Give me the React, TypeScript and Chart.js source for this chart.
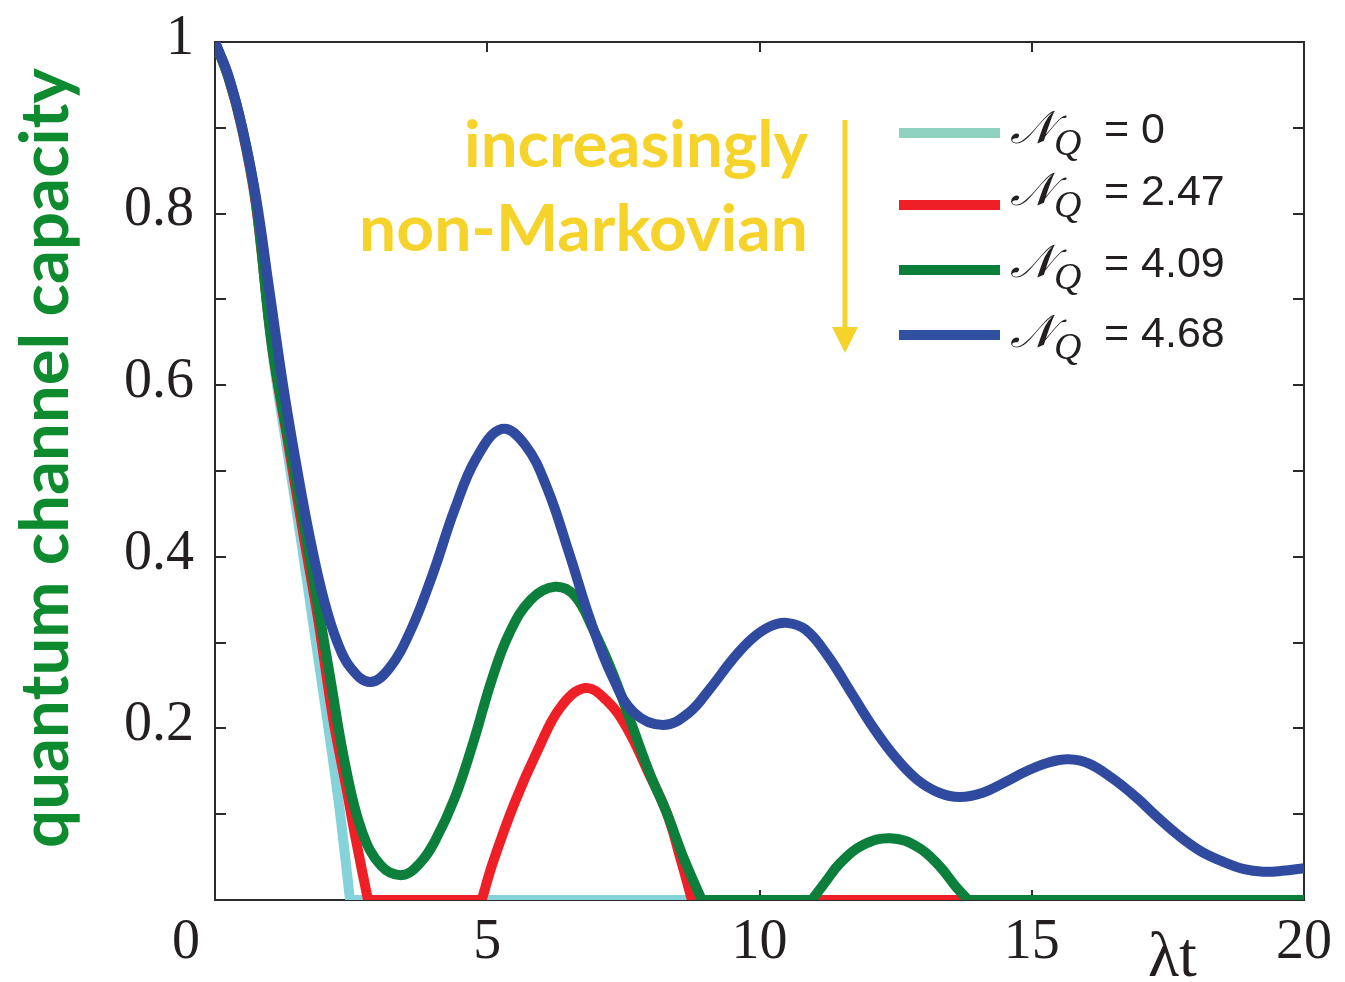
import React, { useEffect, useRef } from 'react';
import { Chart, registerables } from 'chart.js';
Chart.register(...registerables);

// ---- data ----
const T_CYAN = [0, 0.25, 0.5, 0.75, 1.05, 1.3, 1.58, 1.82, 2.06, 2.28, 2.48, 5, 10, 15, 20];
const V_CYAN = [1, 0.958, 0.897, 0.81, 0.64, 0.535, 0.42, 0.315, 0.211, 0.11, 0, 0, 0, 0, 0];

const T_RED = [0, 0.25, 0.5, 0.75, 1.05, 1.35, 1.64, 1.9, 2.17, 2.4, 2.57, 2.81, 4.9, 5.1, 5.5, 5.93, 6.35, 6.8, 7.2, 7.57, 7.95, 8.3, 8.55, 8.76, 12, 16, 20];
const V_RED = [1, 0.958, 0.898, 0.812, 0.645, 0.53, 0.42, 0.325, 0.211, 0.135, 0.076, 0, 0, 0.043, 0.113, 0.175, 0.225, 0.247, 0.232, 0.2, 0.15, 0.101, 0.048, 0, 0, 0, 0];

const T_GREEN = [0, 0.25, 0.5, 0.75, 1.05, 1.4, 1.75, 2.1, 2.4, 2.7, 3.05, 3.43, 3.75, 4.05, 4.41, 4.75, 5.08, 5.4, 5.8, 6.24, 6.6, 6.95, 7.3, 7.65, 8.0, 8.3, 8.6, 8.94, 10.96, 11.2, 11.48, 11.9, 12.4, 12.9, 13.3, 13.6, 13.83, 17, 20];
const V_GREEN = [1, 0.958, 0.9, 0.815, 0.645, 0.52, 0.395, 0.265, 0.155, 0.08, 0.04, 0.029, 0.042, 0.07, 0.12, 0.185, 0.256, 0.31, 0.35, 0.365, 0.355, 0.315, 0.265, 0.205, 0.145, 0.101, 0.05, 0, 0, 0.02, 0.043, 0.064, 0.072, 0.062, 0.04, 0.016, 0, 0, 0];

const T_BLUE = [0, 0.25, 0.5, 0.75, 1.0, 1.25, 1.5, 1.75, 2.0, 2.25, 2.5, 2.85, 3.2, 3.6, 4.0, 4.4, 4.8, 5.27, 5.7, 6.1, 6.5, 6.9, 7.3, 7.7, 8.23, 8.7, 9.1, 9.5, 9.85, 10.2, 10.5, 10.85, 11.25, 11.7, 12.1, 12.5, 12.9, 13.3, 13.68, 14.1, 14.5, 14.9, 15.3, 15.67, 16.05, 16.5, 16.93, 17.3, 17.7, 18.1, 18.5, 18.9, 19.25, 19.6, 20];
const V_BLUE = [1, 0.96, 0.9, 0.82, 0.71, 0.6, 0.505, 0.42, 0.35, 0.3, 0.27, 0.254, 0.27, 0.315, 0.38, 0.455, 0.515, 0.549, 0.53, 0.48, 0.405, 0.325, 0.26, 0.218, 0.204, 0.218, 0.247, 0.28, 0.304, 0.319, 0.323, 0.315, 0.285, 0.24, 0.2, 0.166, 0.14, 0.125, 0.12, 0.125, 0.137, 0.15, 0.16, 0.164, 0.159, 0.141, 0.119, 0.097, 0.075, 0.057, 0.045, 0.036, 0.033, 0.034, 0.037];

const SERIES_NAMES = ['0', '2.47', '4.09', '4.68'];
const LINE_COLORS = ['#85d3da', '#ee1f26', '#0c7f3c', '#2f4a9f'];
const LEGEND_COLORS = ['#90d2c0', '#ee1f26', '#0c7f3c', '#3050a0'];

const X_TICKS = [5, 10, 15];
const X_LABELS = [5, 10, 15, 20];
const Y_LABELS = [0.2, 0.4, 0.6, 0.8, 1];
const Y_MINOR = [0.1, 0.2, 0.3, 0.4, 0.5, 0.6, 0.7, 0.8, 0.9];
const X_TITLE = 'λt';
const Y_TITLE = 'quantum channel capacity';
const NOTE_LINES = ['increasingly', 'non-Markovian'];

// Corner points (where a curve meets the zero floor) are doubled so the spline keeps a sharp corner.
const toPoints = (ts: number[], vs: number[]) => {
  const out: { x: number; y: number }[] = [];
  ts.forEach((t, i) => {
    out.push({ x: t, y: vs[i] });
    const prevNZ = i > 0 && vs[i - 1] !== 0;
    const nextNZ = i < vs.length - 1 && vs[i + 1] !== 0;
    if (vs[i] === 0 && (prevNZ || nextNZ)) out.push({ x: t, y: vs[i] });
  });
  return out;
};

function fitSize(ctx: CanvasRenderingContext2D, text: string, weight: string, family: string, width: number) {
  ctx.font = `${weight} 100px ${family}`;
  const w = ctx.measureText(text).width;
  return (100 * width) / w;
}

const framePlugin = {
  id: 'framePlugin',
  beforeDatasetsDraw(chart: any) {
    const { ctx, chartArea } = chart;
    const { left, right, top, bottom } = chartArea;
    const xs = chart.scales.x;
    const ys = chart.scales.y;
    ctx.save();
    ctx.strokeStyle = '#2b2b2b';
    ctx.lineWidth = 2;
    ctx.strokeRect(left, top, right - left, bottom - top);
    ctx.beginPath();
    Y_MINOR.forEach((v) => {
      const y = Math.round(ys.getPixelForValue(v));
      ctx.moveTo(left, y); ctx.lineTo(left + 11, y);
      ctx.moveTo(right, y); ctx.lineTo(right - 11, y);
    });
    X_TICKS.forEach((v) => {
      const x = Math.round(xs.getPixelForValue(v));
      ctx.moveTo(x, bottom); ctx.lineTo(x, bottom - 10);
      ctx.moveTo(x, top); ctx.lineTo(x, top + 10);
    });
    ctx.stroke();
    ctx.restore();
  },
  afterDraw(chart: any) {
    const { ctx } = chart;
    const xs = chart.scales.x;
    const ys = chart.scales.y;
    ctx.save();
    // tick labels
    ctx.fillStyle = '#231f20';
    ctx.font = '56px "Liberation Serif"';
    ctx.textAlign = 'right';
    ctx.textBaseline = 'middle';
    Y_LABELS.forEach((v) => {
      ctx.fillText(String(v), 194, ys.getPixelForValue(v) - 3);
    });
    ctx.textAlign = 'center';
    ctx.textBaseline = 'alphabetic';
    X_LABELS.forEach((v) => {
      ctx.fillText(String(v), xs.getPixelForValue(v), 958);
    });
    ctx.fillText('0', 186, 958);
    ctx.font = '64px "Liberation Serif"';
    ctx.textAlign = 'left';
    ctx.fillText(X_TITLE, 1148, 976);

    // y title
    const fam = 'Lato';
    const ySize = fitSize(ctx, Y_TITLE, 'bold', fam, 780);
    ctx.save();
    ctx.translate(68, 458);
    ctx.rotate(-Math.PI / 2);
    ctx.font = `bold ${ySize}px ${fam}`;
    ctx.fillStyle = '#0e8a2f';
    ctx.textAlign = 'center';
    ctx.textBaseline = 'alphabetic';
    ctx.fillText(Y_TITLE, 0, 0);
    ctx.restore();

    // annotation
    ctx.fillStyle = '#f6d32b';
    ctx.textAlign = 'right';
    const s1 = fitSize(ctx, NOTE_LINES[0], 'bold', fam, 344);
    ctx.font = `bold ${s1}px ${fam}`;
    ctx.fillText(NOTE_LINES[0], 808, 167);
    const s2 = fitSize(ctx, NOTE_LINES[1], 'bold', fam, 449);
    ctx.font = `bold ${s2}px ${fam}`;
    ctx.fillText(NOTE_LINES[1], 808, 251);
    ctx.strokeStyle = '#f6d32b';
    ctx.lineWidth = 5;
    ctx.beginPath();
    ctx.moveTo(845, 120); ctx.lineTo(845, 330);
    ctx.stroke();
    ctx.beginPath();
    ctx.moveTo(832, 327); ctx.lineTo(858, 327); ctx.lineTo(845, 353);
    ctx.closePath();
    ctx.fill();

    // legend
    const rowsLine = [133, 205, 270, 335];
    const rowsText = [143, 205, 277, 347];
    SERIES_NAMES.forEach((name, i) => {
      ctx.strokeStyle = LEGEND_COLORS[i];
      ctx.lineWidth = 10;
      ctx.lineCap = 'butt';
      ctx.beginPath();
      ctx.moveTo(899, rowsLine[i]); ctx.lineTo(1000, rowsLine[i]);
      ctx.stroke();
      ctx.fillStyle = '#231f20';
      ctx.textAlign = 'left';
      ctx.font = 'italic 46px "DejaVu Serif"';
      ctx.fillText('𝒩', 1010, rowsText[i]);
      ctx.font = 'italic 38px "Liberation Serif"';
      ctx.fillText('Q', 1054, rowsText[i] + 12);
      ctx.font = '43px "Liberation Sans"';
      ctx.fillText('= ' + name, 1104, rowsText[i]);
    });
    ctx.restore();
  },
};

export default function App() {
  const ref = useRef<HTMLCanvasElement | null>(null);
  useEffect(() => {
    if (!ref.current) return;
    const series = [
      toPoints(T_CYAN, V_CYAN),
      toPoints(T_RED, V_RED),
      toPoints(T_GREEN, V_GREEN),
      toPoints(T_BLUE, V_BLUE),
    ];
    const chart = new Chart(ref.current, {
      type: 'line',
      data: {
        datasets: series.map((d, i) => ({
          label: 'N_Q = ' + SERIES_NAMES[i],
          data: d,
          borderColor: LINE_COLORS[i],
          borderWidth: 10,
          pointRadius: 0,
          tension: 0.4,
          fill: false,
          order: 3 - i,
        })),
      },
      options: {
        animation: false,
        responsive: true,
        maintainAspectRatio: false,
        layout: { padding: { left: 215, top: 42, right: 41, bottom: 82 } },
        plugins: { legend: { display: false }, tooltip: { enabled: false } },
        scales: {
          x: { type: 'linear', min: 0, max: 20, display: false },
          y: { type: 'linear', min: 0, max: 1, display: false },
        },
      },
      plugins: [framePlugin],
    });
    return () => chart.destroy();
  }, []);
  return (
    <div style={{ position: 'fixed', left: 0, top: 0, width: 1345, height: 982, background: '#fff' }}>
      <canvas ref={ref} />
    </div>
  );
}
